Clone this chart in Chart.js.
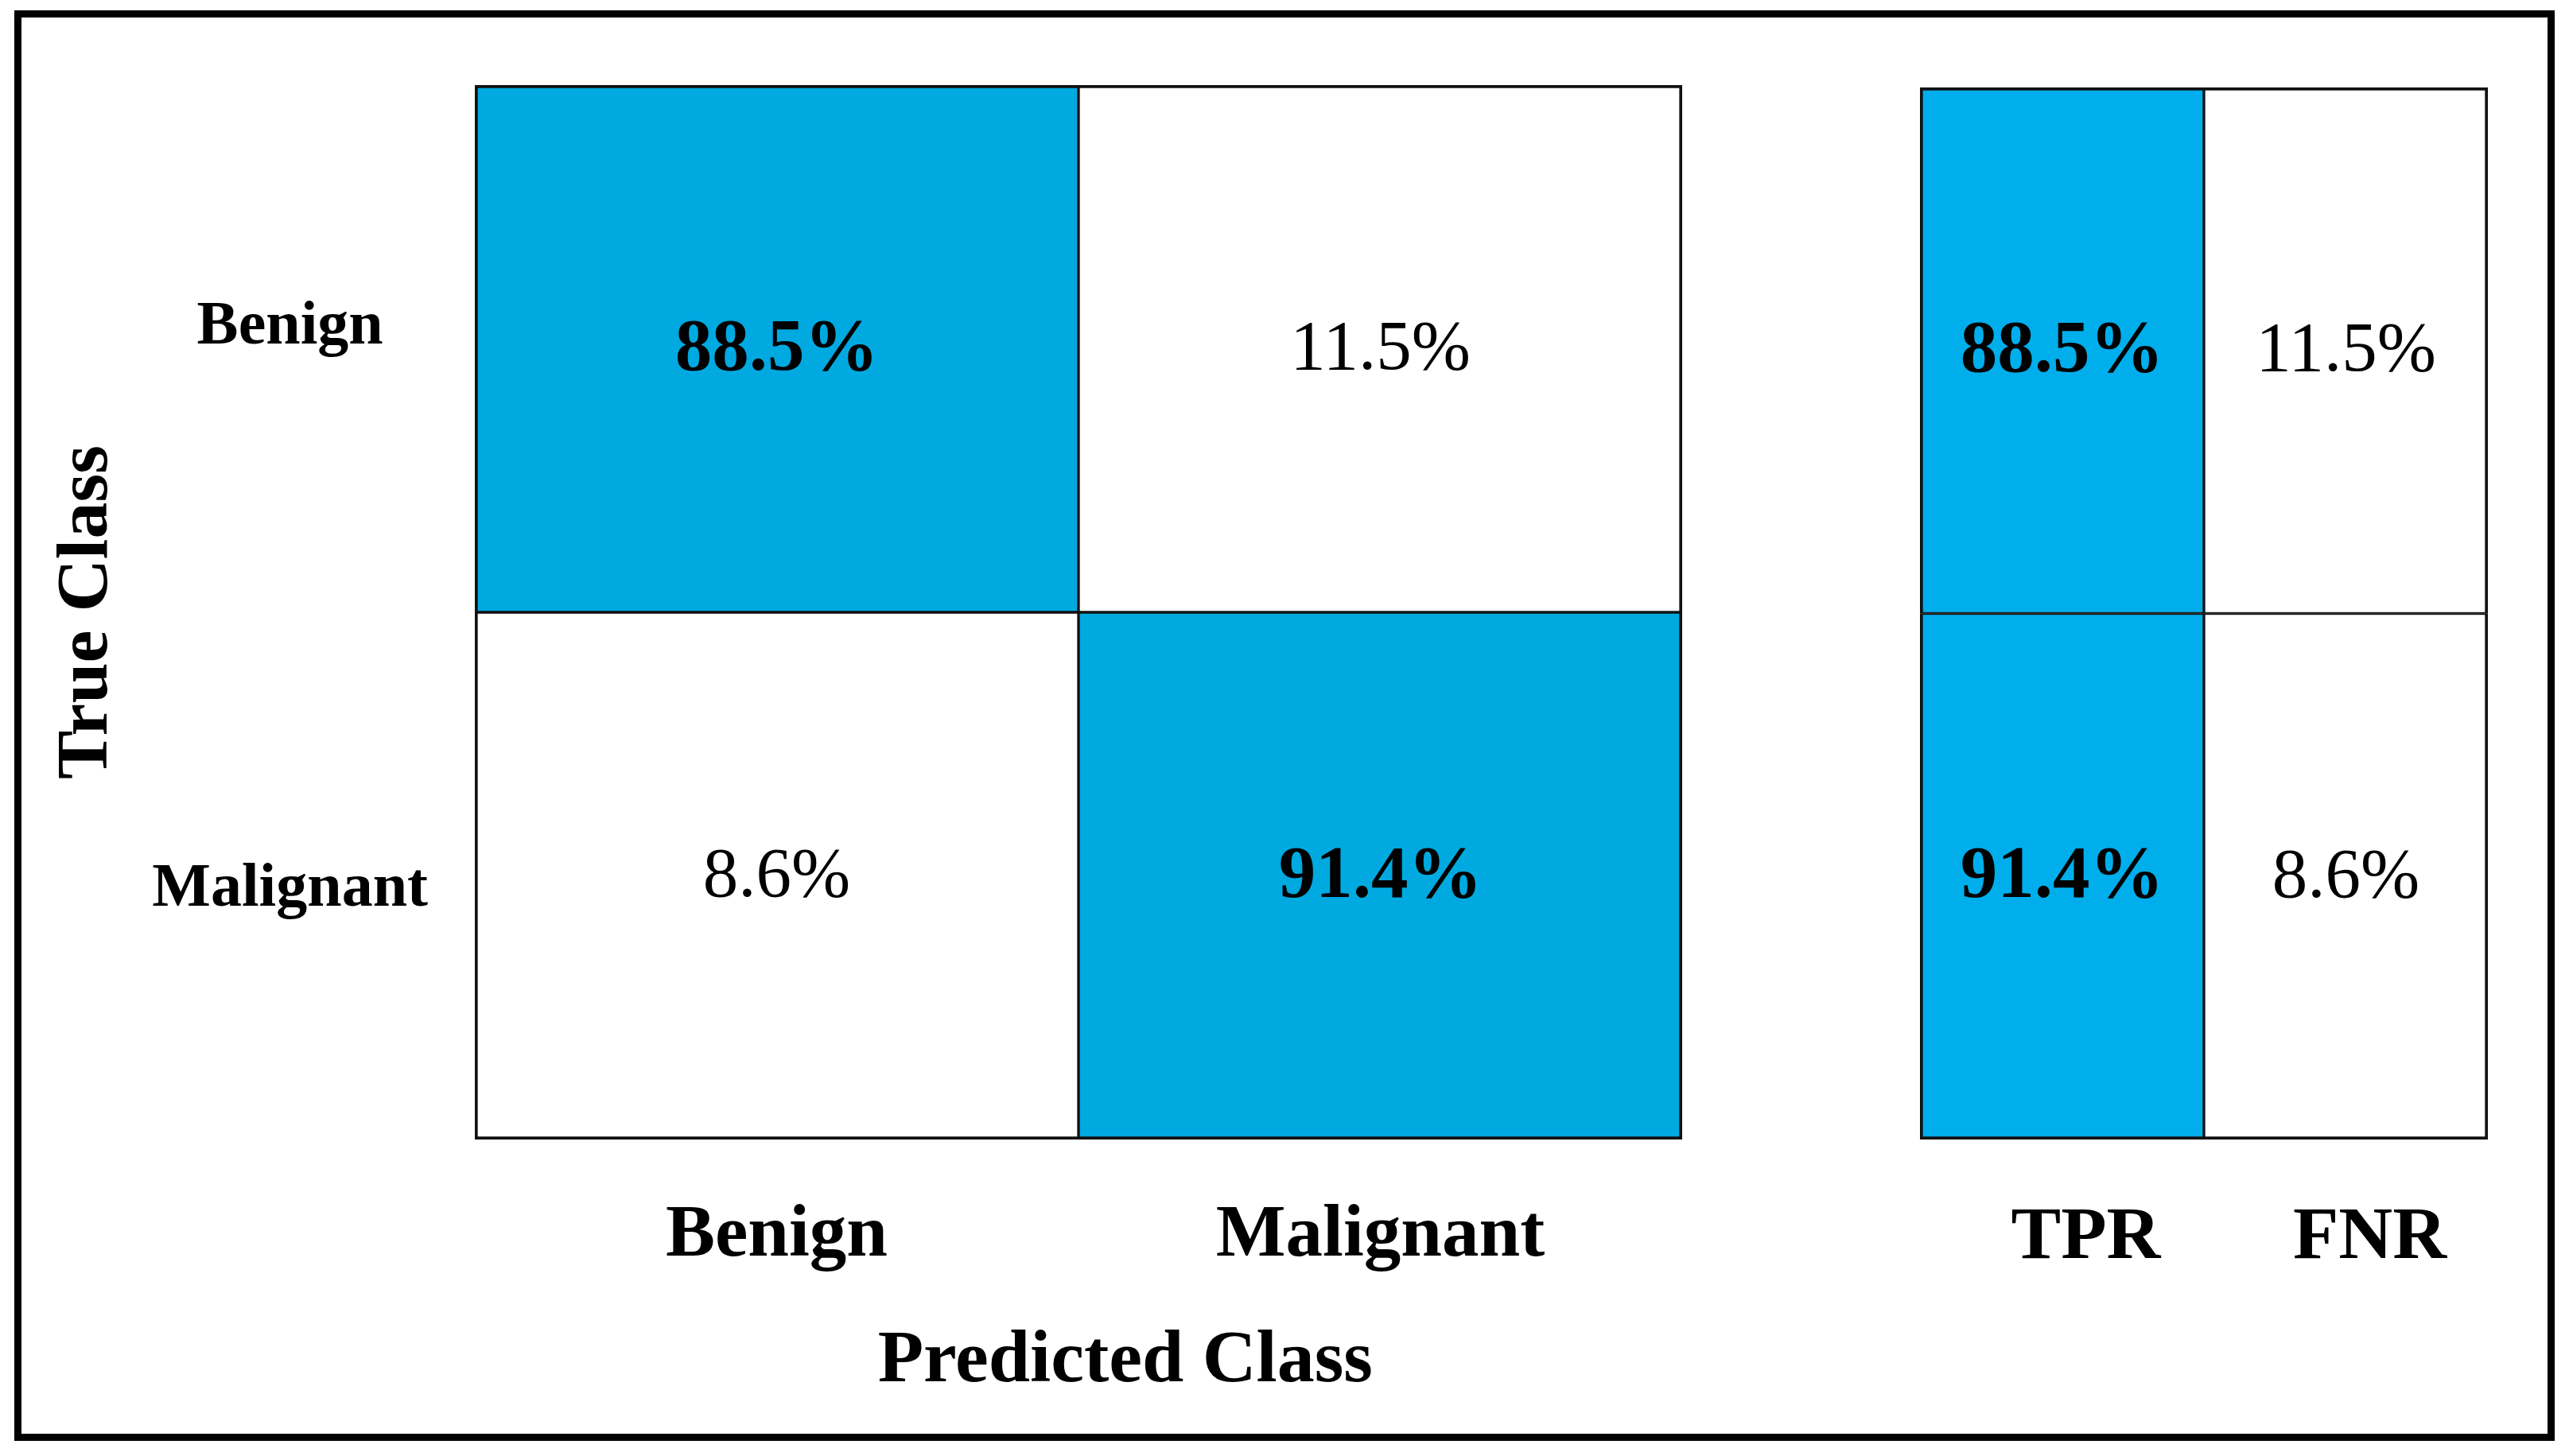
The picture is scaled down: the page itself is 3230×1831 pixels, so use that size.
<!DOCTYPE html>
<html>
<head>
<meta charset="utf-8">
<script src="https://cdn.jsdelivr.net/npm/chart.js@4.4.1/dist/chart.umd.min.js"></script>
<style>
  html, body { margin: 0; padding: 0; background: #fff; }
  body { width: 3230px; height: 1831px; position: relative; overflow: hidden; }
  #frame { position: absolute; left: 18px; top: 13px; width: 3194px; height: 1799px; box-sizing: border-box; border: 9px solid #000; }
  #matrix { position: absolute; left: 0; top: 0; }
  #rates { position: absolute; left: 2300px; top: 0; }
</style>
</head>
<body>
<div id="frame"></div>
<canvas id="matrix" width="2200" height="1831"></canvas>
<canvas id="rates" width="930" height="1831"></canvas>
<script>
// data
const predictedClasses = ['Benign', 'Malignant'];
const trueClasses = ['Benign', 'Malignant'];
const benignRow = [88.5, 11.5];     // true Benign -> predicted Benign / Malignant
const malignantRow = [8.6, 91.4];   // true Malignant -> predicted Benign / Malignant
const rateNames = ['TPR', 'FNR'];
const tprValues = [88.5, 91.4];
const fnrValues = [11.5, 8.6];

const blueMain = '#00A9E0';
const blueSide = '#00AEEB';
const serif = '"Liberation Serif", "Times New Roman", serif';
const rowLabelNudge = [-0.04, 0.026];   // row names sit a bit off the row middle in the original

Chart.defaults.font.family = serif;
Chart.defaults.color = '#000';

// one floating bar per cell, rows stacked on a 0..n linear axis
function rowsToDatasets(rows, hits, blue) {
    return rows.map((row, r) => ({
        data: row.map(() => [r, r + 1]),
        cells: row,
        hits: hits[r],
        backgroundColor: c => c.dataset.hits[c.dataIndex] ? blue : '#fff',
        borderColor: '#111',
        borderWidth: c => ({
            top: r === 0 ? 4 : 2,
            bottom: r === rows.length - 1 ? 4 : 2,
            left: c.dataIndex === 0 ? 4 : 2,
            right: c.dataIndex === row.length - 1 ? 4 : 2
        }),
        borderSkipped: false,
        grouped: false,
        categoryPercentage: 1,
        barPercentage: 1
    }));
}

// percentage text in the middle of each cell
const cellText = {
    id: 'cellText',
    afterDatasetsDraw(chart) {
        const {ctx} = chart;
        ctx.save();
        ctx.textAlign = 'center';
        ctx.textBaseline = 'middle';
        ctx.fillStyle = '#000';
        chart.data.datasets.forEach((ds, r) => {
            chart.getDatasetMeta(r).data.forEach((bar, c) => {
                const bold = ds.hits[c];
                ctx.font = (bold ? 'bold 93px ' : '89px ') + serif;
                const p = bar.getCenterPoint();
                ctx.fillText(ds.cells[c].toFixed(1) + '%', p.x, p.y + 2);
            });
        });
        ctx.restore();
    }
};

const mainRows = [benignRow, malignantRow];
const mainHits = mainRows.map((row, r) => row.map((_, c) => r === c));

new Chart(document.getElementById('matrix'), {
    type: 'bar',
    data: {
        labels: predictedClasses,
        datasets: rowsToDatasets(mainRows, mainHits, blueMain)
    },
    plugins: [cellText],
    options: {
        responsive: false,
        animation: false,
        events: [],
        layout: { padding: { top: 107, right: 85, left: 0, bottom: 0 } },
        plugins: { legend: { display: false }, tooltip: { enabled: false } },
        scales: {
            x: {
                type: 'category',
                grid: { display: false },
                border: { display: false },
                ticks: { font: { size: 93, weight: 'bold' }, padding: 58 },
                title: {
                    display: true,
                    // leading spaces push the centred title right, as in the original
                    text: '     Predicted Class',
                    font: { size: 94, weight: 'bold' },
                    padding: { top: 0, bottom: 62 }
                },
                afterFit: s => { s.height = 398; }
            },
            y: {
                type: 'linear',
                min: 0,
                max: trueClasses.length,
                reverse: true,
                afterBuildTicks: s => {
                    s.ticks = trueClasses.map((_, i) => ({ value: i + 0.5 + rowLabelNudge[i] }));
                },
                ticks: {
                    callback: (v, i) => trueClasses[i],
                    font: { size: 78, weight: 'bold' },
                    crossAlign: 'center',
                    padding: 51
                },
                grid: { display: false },
                border: { display: false },
                title: {
                    display: true,
                    text: 'True Class',
                    font: { size: 92, weight: 'bold' },
                    padding: { top: 55, bottom: 0 }
                },
                afterFit: s => { s.width = 597; }
            }
        }
    }
});

const rateRows = trueClasses.map((_, r) => [tprValues[r], fnrValues[r]]);
const rateHits = rateRows.map(row => row.map((_, c) => c === 0));

new Chart(document.getElementById('rates'), {
    type: 'bar',
    data: {
        labels: rateNames,
        datasets: rowsToDatasets(rateRows, rateHits, blueSide)
    },
    plugins: [cellText],
    options: {
        responsive: false,
        animation: false,
        events: [],
        layout: { padding: { top: 110, right: 102, left: 114, bottom: 0 } },
        plugins: { legend: { display: false }, tooltip: { enabled: false } },
        scales: {
            x: {
                type: 'category',
                grid: { display: false },
                border: { display: false },
                ticks: { font: { size: 94, weight: 'bold' }, padding: 60, labelOffset: 30 },
                afterFit: s => { s.height = 398; }
            },
            y: {
                type: 'linear',
                display: false,
                min: 0,
                max: trueClasses.length,
                reverse: true
            }
        }
    }
});
</script>
</body>
</html>
